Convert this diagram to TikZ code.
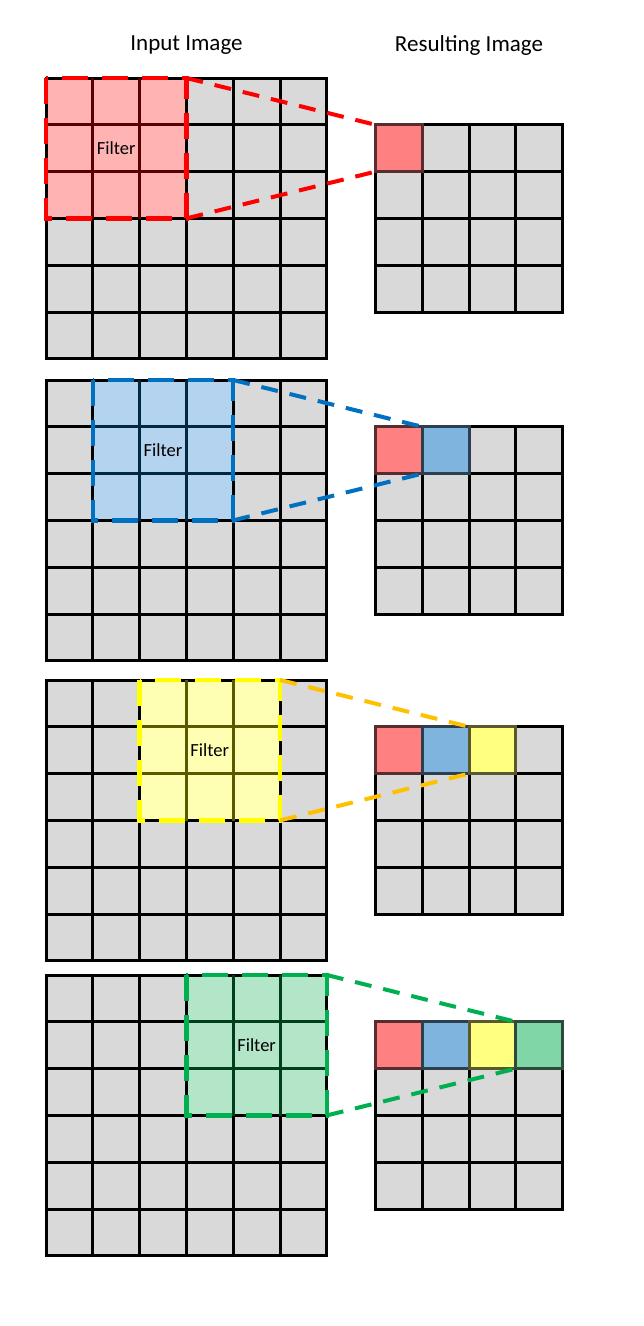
\documentclass[tikz,border=0pt]{standalone}
\usepackage{fontspec}
\setmainfont{Carlito}
\usetikzlibrary{positioning}

\definecolor{cellgray}{HTML}{D9D9D9}
% filter window
\definecolor{fillred}{HTML}{FFB3B3}
\definecolor{fillblue}{HTML}{B4D3EE}
\definecolor{fillyellow}{HTML}{FFFFB3}
\definecolor{fillgreen}{HTML}{B3E6C8}
\definecolor{edgered}{HTML}{FF0000}
\definecolor{edgeblue}{HTML}{0070C0}
\definecolor{edgeyellow}{HTML}{FFFF00}
\definecolor{edgegreen}{HTML}{00B050}
\definecolor{linkred}{HTML}{FF0000}
\definecolor{linkblue}{HTML}{0070C0}
\definecolor{linkyellow}{HTML}{FFC000}
\definecolor{linkgreen}{HTML}{00B050}
% resulting cells
\definecolor{outred}{HTML}{FF8080}
\definecolor{outblue}{HTML}{7FB4DE}
\definecolor{outyellow}{HTML}{FFFF80}
\definecolor{outgreen}{HTML}{80D6A6}

\newcommand{\cellsz}{46.8} % cell size

\begin{document}
\begin{tikzpicture}[
            x = 1pt, y = -1pt, % pixel units, y downwards
            gridline/.style = {line width=3pt, line cap=rect},
            title/.style = {font=\fontsize{23}{27}\selectfont},
            window/.style = {minimum size=140.4pt, inner sep=0pt, outer sep=0pt,
                font=\fontsize{18.5}{21}\selectfont},
            windowedge/.style = {line width=4.5pt, dash pattern=on 26pt off 14pt},
            outcell/.style = {minimum size=46.8pt, inner sep=0pt, outer sep=0pt,
                line width=3pt},
            link/.style = {line width=4pt, dash pattern=on 17pt off 12pt}
        ]

        \useasboundingbox (0,0) rectangle (644,1326);

        \node[title] (intitle) at (186.5,45) {Input Image};
        \node[title] (outtitle) at (469,45) {Resulting Image};

        \foreach \k/\top/\col in {0/78/red, 1/380/blue, 2/680/yellow, 3/975/green} {
            % input image with filter window
            \fill[cellgray] (46,\top) rectangle ++(6*\cellsz,6*\cellsz);
            \node[window, fill=fill\col] (win\k) at ({46+(\k+1.5)*\cellsz},{\top+1.5*\cellsz}) {Filter};
            \foreach \i in {0,...,6} {
                \draw[gridline] ({46+\i*\cellsz},\top) -- ++(0,6*\cellsz);
                \draw[gridline] (46,{\top+\i*\cellsz}) -- ++(6*\cellsz,0);
            }
            \begin{scope}
                \clip (win\k.north west) rectangle (win\k.south east);
                \foreach \i in {1,2} {
                    \draw[gridline, draw=edge\col!35!black] ({46+(\k+\i)*\cellsz},\top) -- ++(0,3*\cellsz);
                    \draw[gridline, draw=edge\col!35!black] ({46+\k*\cellsz},{\top+\i*\cellsz}) -- ++(3*\cellsz,0);
                }
            \end{scope}
            \draw[windowedge, draw=edge\col] (win\k.north west) rectangle (win\k.south east);

            % resulting image
            \fill[cellgray] (375.5,{\top+\cellsz}) rectangle ++(4*\cellsz,4*\cellsz);
            \foreach \i in {0,...,4} {
                \draw[gridline] ({375.5+\i*\cellsz},{\top+\cellsz}) -- ++(0,4*\cellsz);
                \draw[gridline] (375.5,{\top+(\i+1)*\cellsz}) -- ++(4*\cellsz,0);
            }
            \foreach \j/\hue in {0/red, 1/blue, 2/yellow, 3/green} {
                \ifnum\j>\k\else
                    \node[outcell, fill=out\hue, draw=out\hue!35!black] (out\k\j)
                        at ({375.5+(\j+0.5)*\cellsz},{\top+1.5*\cellsz}) {};
                \fi
            }

            % connectors
            \draw[link, draw=link\col] (win\k.north east) -- (out\k\k.north west);
            \draw[link, draw=link\col] (win\k.south east) -- (out\k\k.south west);
        }
    \end{tikzpicture}
\end{document}
